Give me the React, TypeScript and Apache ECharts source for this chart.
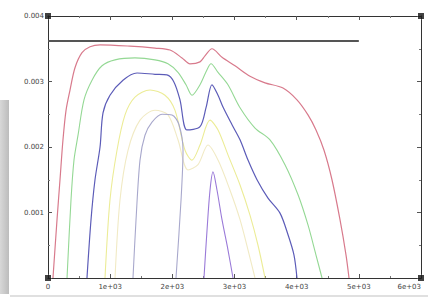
import React, { useEffect, useRef } from "react";
import * as echarts from "echarts";

const xTicks = [0, 1000, 2000, 3000, 4000, 5000, 6000];
const yTicks = [0, 0.001, 0.002, 0.003, 0.004];

const refLevel: number[][] = [[0, 0.00362], [5000, 0.00362]];

const redSeries: number[][] = [
  [80, 0], [145, 0.00089], [193, 0.0015], [241, 0.00211], [290, 0.00256], [354, 0.00287],
  [434, 0.00321], [547, 0.00344], [676, 0.00353], [837, 0.00356], [1319, 0.00354],
  [1721, 0.00351], [1963, 0.00348], [2156, 0.00336], [2284, 0.00327], [2445, 0.0033],
  [2525, 0.00339], [2638, 0.0035], [2799, 0.00337], [3008, 0.00324], [3249, 0.00308],
  [3491, 0.00298], [3780, 0.0029], [4005, 0.00272], [4182, 0.00249], [4311, 0.00226],
  [4440, 0.00195], [4568, 0.0015], [4697, 0.00089], [4794, 0.00035], [4842, 0],
];

const greenSeries: number[][] = [
  [306, 0], [370, 0.00119], [418, 0.0018], [483, 0.00218], [579, 0.00272], [708, 0.00302],
  [869, 0.00324], [1078, 0.00333], [1399, 0.00336], [1721, 0.00333], [1930, 0.00327],
  [2091, 0.00314], [2220, 0.00295], [2316, 0.00279], [2445, 0.00295], [2558, 0.00318],
  [2622, 0.00327], [2735, 0.00314], [2895, 0.00295], [3089, 0.0026], [3330, 0.00229],
  [3571, 0.00211], [3812, 0.00173], [4022, 0.00127], [4182, 0.00081], [4311, 0.00035], [4408, 0],
];

const blueSeries: number[][] = [
  [627, 0], [692, 0.00089], [756, 0.0015], [837, 0.002], [885, 0.00252], [997, 0.00279],
  [1206, 0.00302], [1432, 0.00313], [1721, 0.00311], [1914, 0.0031], [2027, 0.00299],
  [2123, 0.00272], [2236, 0.00226], [2445, 0.00231], [2542, 0.0026], [2638, 0.00295],
  [2735, 0.00279], [2815, 0.00261], [2960, 0.00234], [3089, 0.00211], [3217, 0.0018],
  [3362, 0.0015], [3539, 0.00122], [3732, 0.00099], [3861, 0.00066], [3957, 0.00035], [4005, 0],
];

const yellowSeries: number[][] = [
  [917, 0], [997, 0.00119], [1110, 0.00195], [1239, 0.00249], [1399, 0.00276], [1641, 0.00287],
  [1882, 0.00279], [2043, 0.00256], [2204, 0.00195], [2316, 0.0018], [2445, 0.00203],
  [2606, 0.00241], [2735, 0.00226], [2895, 0.00188], [3089, 0.00142], [3249, 0.00096],
  [3378, 0.0005], [3491, 0],
];

const creamSeries: number[][] = [
  [1078, 0], [1158, 0.00119], [1287, 0.00195], [1480, 0.00241], [1721, 0.00256],
  [1930, 0.00249], [2091, 0.00211], [2252, 0.00165], [2413, 0.00173], [2574, 0.00203],
  [2735, 0.0018], [2928, 0.00134], [3089, 0.00089], [3217, 0.00043], [3330, 0],
];

const graySeries: number[][] = [
  [1367, 0], [1416, 0.00089], [1480, 0.0018], [1560, 0.00218], [1673, 0.00238],
  [1834, 0.0025], [1995, 0.00249], [2107, 0.00234], [2172, 0.00195], [2140, 0.00119], [2059, 0],
];

const violetSeries: number[][] = [
  [2509, 0], [2558, 0.00073], [2606, 0.00134], [2654, 0.00162], [2719, 0.00134],
  [2799, 0.00089], [2895, 0.00043], [2976, 0],
];

const cornerMarks: number[][] = [[0, 0], [6000, 0], [0, 0.004], [6000, 0.004]];

const curves: { data: number[][]; color: string; width: number }[] = [
  { data: creamSeries, color: "#f1eac4", width: 1.1 },
  { data: yellowSeries, color: "#ecec96", width: 1.1 },
  { data: greenSeries, color: "#94d894", width: 1.1 },
  { data: redSeries, color: "#d87a8c", width: 1.2 },
  { data: blueSeries, color: "#5c5cb8", width: 1.2 },
  { data: graySeries, color: "#a8a8cc", width: 1.1 },
  { data: violetSeries, color: "#9a7ad8", width: 1.1 },
];

const xFmt = (v: number) => (v === 0 ? "0" : `${Math.round(v / 1000)}e+03`);
const yFmt = (v: number) => (v === 0 ? "" : v.toFixed(3));

export default function App() {
  const ref = useRef<HTMLDivElement>(null);
  useEffect(() => {
    if (!ref.current) return;
    const chart = echarts.init(ref.current, null, { renderer: "svg" });
    const axisLine = { show: true, onZero: false, lineStyle: { color: "#333", width: 1 } };
    const tick = { show: true, inside: true, length: 4, lineStyle: { color: "#555" } };
    const minor = { show: true, splitNumber: 2, length: 2, lineStyle: { color: "#777" } };
    chart.setOption({
      animation: false,
      backgroundColor: "#fff",
      grid: { left: 48, right: 7, top: 16, bottom: 20, outerBoundsMode: "none", containLabel: false },
      xAxis: [
        {
          type: "value", position: "bottom", min: xTicks[0], max: xTicks[xTicks.length - 1], interval: 1000,
          axisLine, axisTick: tick, minorTick: minor, splitLine: { show: false },
          axisLabel: {
            formatter: xFmt, fontSize: 7, color: "#444", margin: 5, fontFamily: "DejaVu Sans",
            alignMaxLabel: "right",
          },
        },
        {
          type: "value", position: "top", min: xTicks[0], max: xTicks[xTicks.length - 1], interval: 1000,
          axisLine, axisTick: tick, minorTick: minor, splitLine: { show: false },
          axisLabel: { show: false },
        },
      ],
      yAxis: [
        {
          type: "value", position: "left", min: yTicks[0], max: yTicks[yTicks.length - 1], interval: 0.001,
          axisLine, axisTick: tick, minorTick: minor, splitLine: { show: false },
          axisLabel: { formatter: yFmt, fontSize: 7, color: "#444", margin: 4, fontFamily: "DejaVu Sans" },
        },
        {
          type: "value", position: "right", min: yTicks[0], max: yTicks[yTicks.length - 1], interval: 0.001,
          axisLine, axisTick: tick, minorTick: minor, splitLine: { show: false },
          axisLabel: { show: false },
        },
      ],
      series: [
        ...curves.map((c) => ({
          type: "line", data: c.data, showSymbol: false, smooth: 0.3,
          lineStyle: { color: c.color, width: c.width }, silent: true,
        })),
        {
          type: "line", data: refLevel, showSymbol: false,
          lineStyle: { color: "#555", width: 2 }, silent: true,
        },
        {
          type: "scatter", data: cornerMarks, symbol: "rect", symbolSize: 6,
          itemStyle: { color: "#111" }, silent: true, clip: false,
        },
      ],
      graphic: [
        {
          type: "rect", shape: { x: 0, y: 100, width: 9, height: 194 },
          style: {
            fill: new echarts.graphic.LinearGradient(0, 0, 1, 0, [
              { offset: 0, color: "#d8d8d8" },
              { offset: 1, color: "#bcbcbc" },
            ]),
          },
          silent: true,
        },
        {
          type: "line", shape: { x1: 10, y1: 296, x2: 428, y2: 296 },
          style: { stroke: "#d6d6d6", lineWidth: 1.5 }, silent: true,
        },
      ],
    });
    return () => chart.dispose();
  }, []);
  return (
    <div
      ref={ref}
      style={{ position: "fixed", left: 0, top: 0, width: 428, height: 298 }}
    />
  );
}
